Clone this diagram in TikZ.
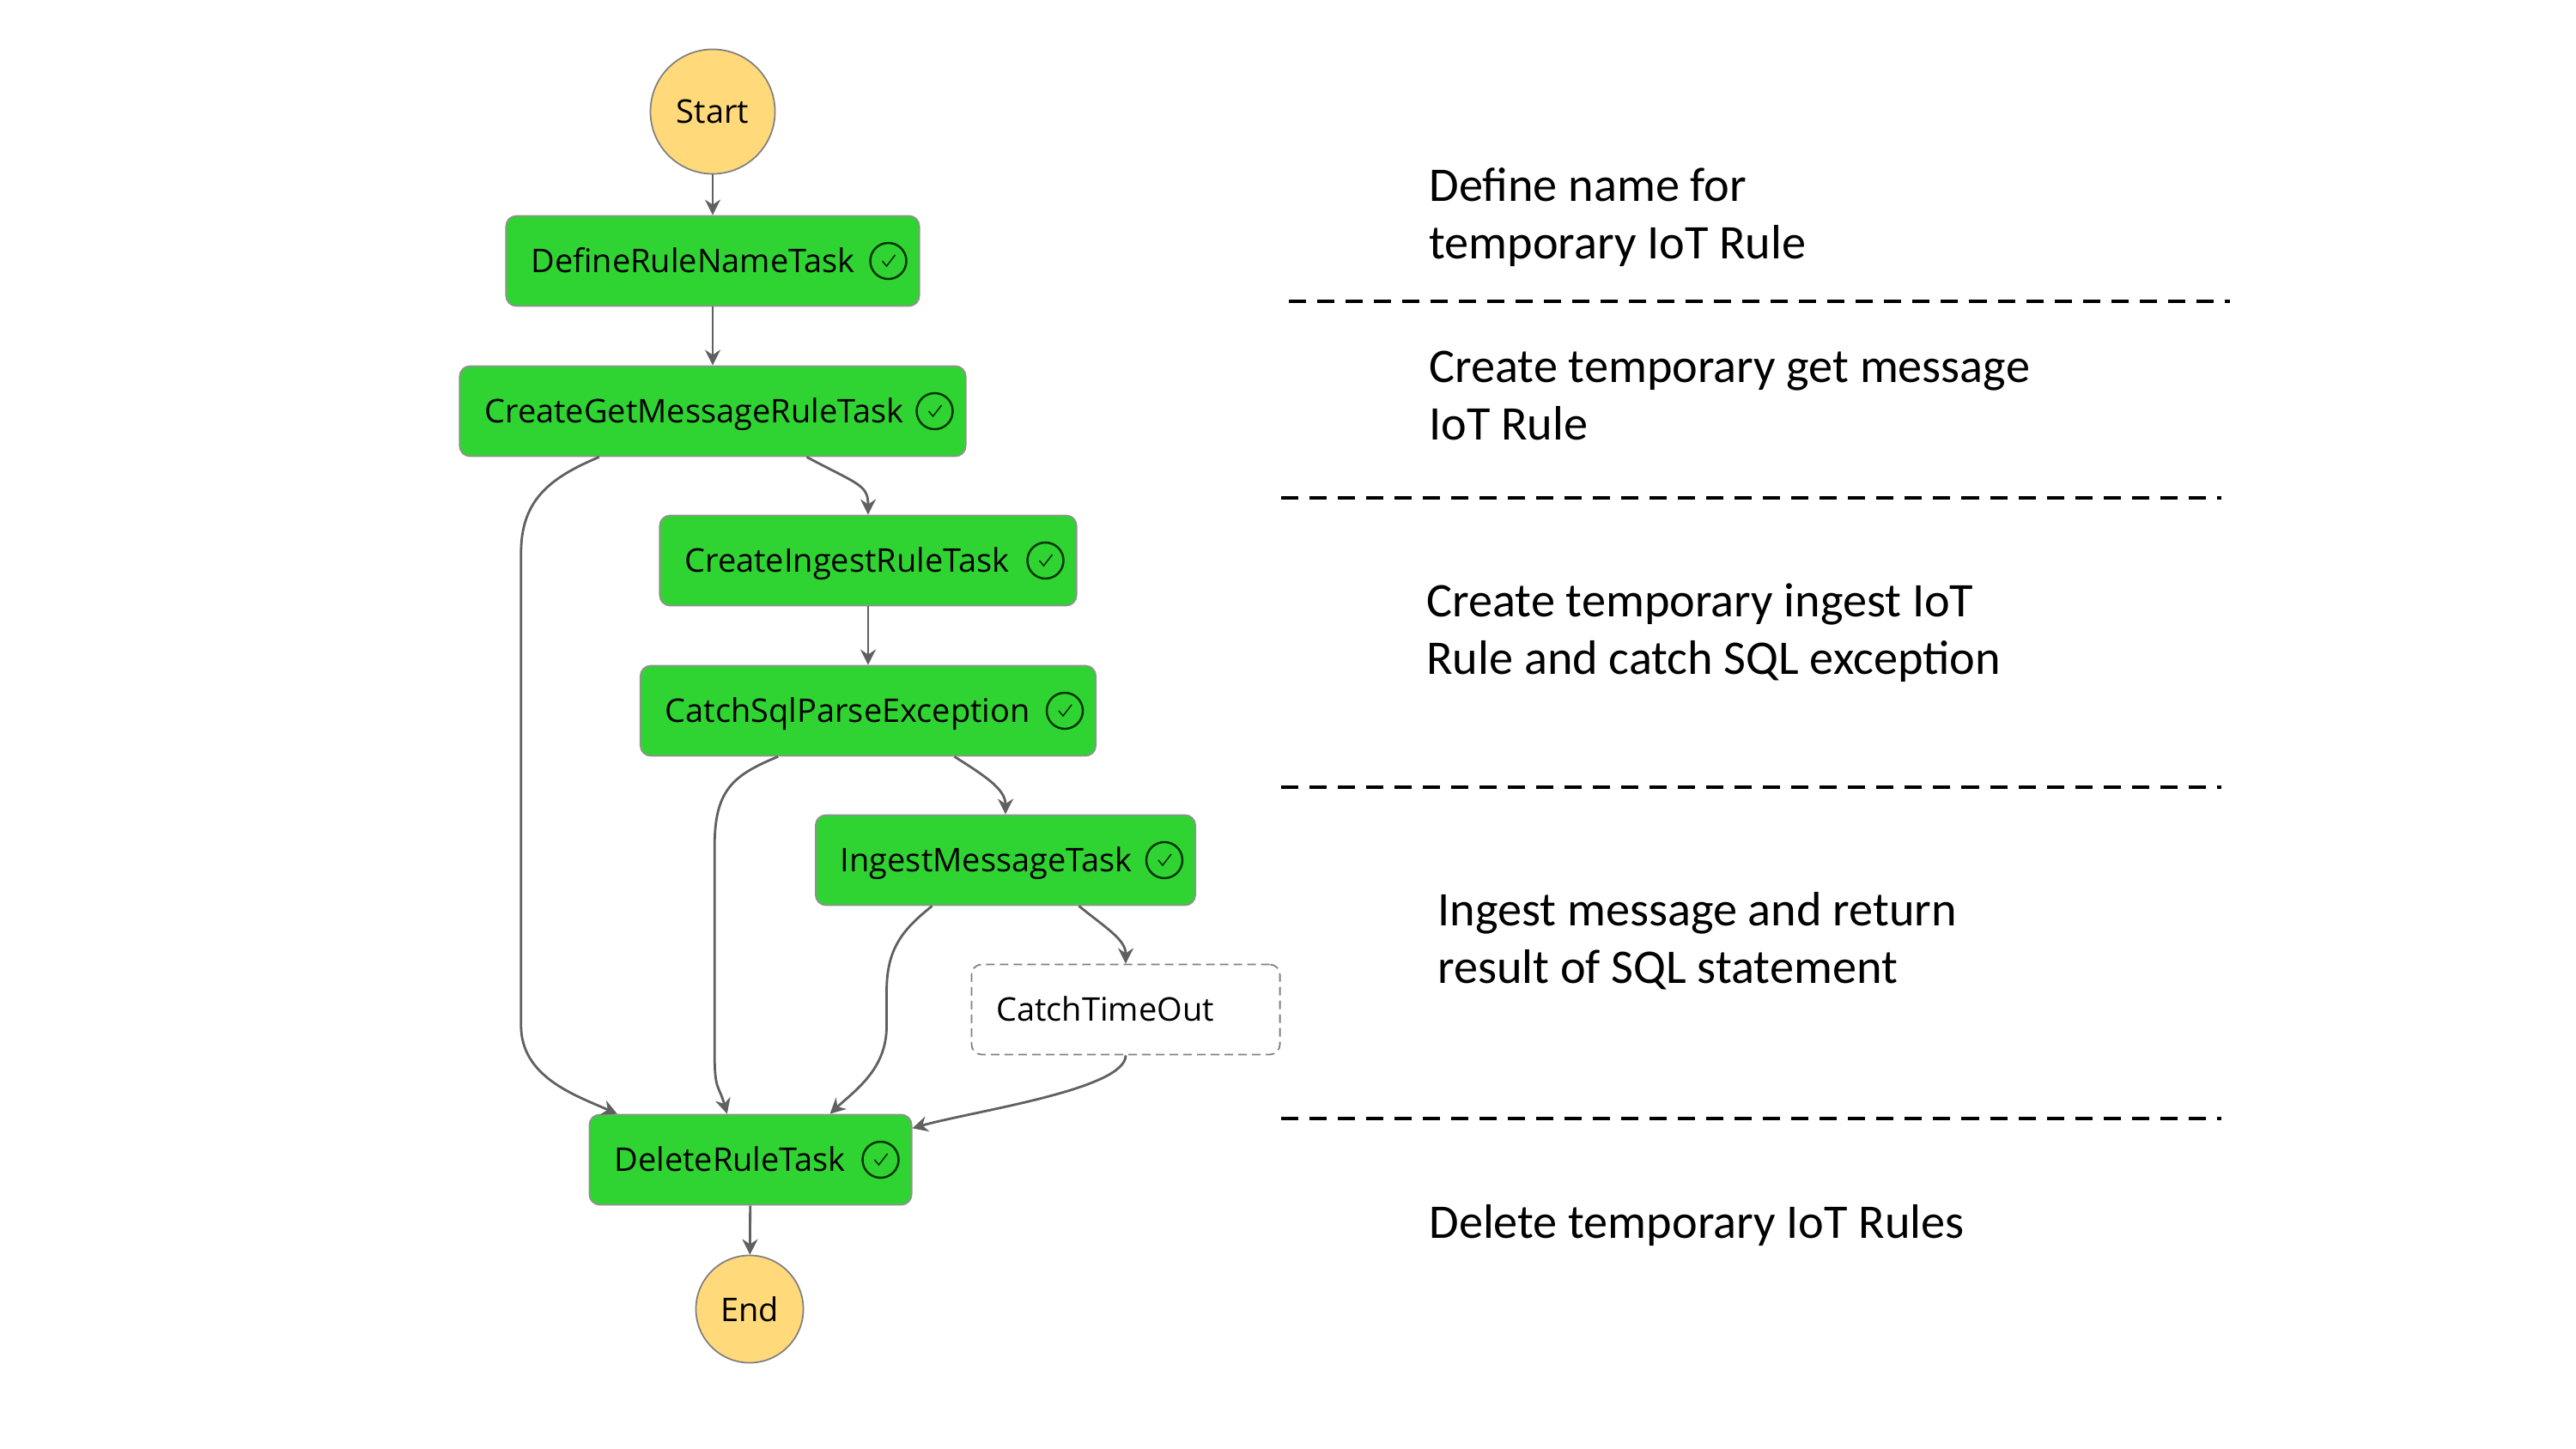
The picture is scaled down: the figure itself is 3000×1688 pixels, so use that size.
\documentclass[tikz,border=0pt]{standalone}
\usepackage{fontspec}
\setmainfont{Open Sans}
\newfontfamily\notefont{Carlito}
\usepackage{xcolor}
\usetikzlibrary{arrows.meta,positioning,shapes.geometric}
\definecolor{taskgreen}{HTML}{2FD432}
\definecolor{startyellow}{HTML}{FFD97A}
\definecolor{edgegray}{HTML}{606060}

\begin{document}
\begin{tikzpicture}[
    x=0.01cm, y=-0.01cm,
    task/.style={draw=edgegray!70, fill=taskgreen, rounded corners=0.12cm, minimum height=1.05cm, inner xsep=0.29cm, inner ysep=0pt, text height=0.34cm, text depth=0.07cm, align=left, font=\fontsize{10.8}{12}\selectfont, line width=0.5pt},
    state/.style={circle, draw=edgegray!80, fill=startyellow, inner sep=0pt, font=\fontsize{10.8}{12}\selectfont, line width=0.5pt},
    okmark/.style={circle, draw=black!80!green, minimum size=0.42cm, inner sep=0pt, line width=0.7pt, path picture={\draw[line width=0.45pt] ([shift={(-0.07cm,0cm)}]path picture bounding box.center) -- ++(0.05cm,-0.06cm) -- ++(0.1cm,0.13cm);}},
    arrow/.style={-{Stealth[length=0.18cm,width=0.18cm]}, edgegray, line width=0.8pt},
    note/.style={anchor=west, align=left, font=\notefont\fontsize{16}{19}\selectfont},
    divider/.style={dashed, dash pattern=on 0.2cm off 0.13cm, line width=1.2pt}
]
    \useasboundingbox (0,0) rectangle (3000,1688);

    % The state machine
    \node[state, minimum size=1.45cm] (start) at (830,130) {Start};
    \node[task, text width=4.23cm] (define) at (830,304) {DefineRuleNameTask};
    \node[task, text width=5.31cm] (create) at (830,479) {CreateGetMessageRuleTask};
    \node[task, text width=4.27cm] (ingestrule) at (1011,653) {CreateIngestRuleTask};
    \node[task, text width=4.72cm] (catchsql) at (1011,828) {CatchSqlParseException};
    \node[task, text width=3.84cm] (ingest) at (1171,1002) {IngestMessageTask};
    \node[task, text width=3.01cm, draw=gray, fill=white, dashed, dash pattern=on 0.1cm off 0.06cm] (timeout) at (1311,1176) {CatchTimeOut};
    \node[task, text width=3.17cm] (delete) at (874,1351) {DeleteRuleTask};
    \node[state, minimum size=1.25cm] (end) at (873,1525) {End};

    % Check marks
    \foreach \t in {define,create,ingestrule,catchsql,ingest,delete}
        \node[okmark] (\t-ok) at ([xshift=-0.37cm]\t.east) {};

    % Arrows
    \draw[arrow] (start) -- (define);
    \draw[arrow] (define) -- (create);
    \draw[arrow] (create.334) .. controls +(60,32) and +(0,-35) .. (ingestrule.north);
    \draw[arrow] (ingestrule) -- (catchsql);
    \draw[arrow] (catchsql.332) .. controls +(40,25) and +(0,-28) .. (ingest.north);
    \draw[arrow] (ingest.328) .. controls +(32,26) and +(0,-28) .. (timeout.north);

    \draw[arrow] (create.202) .. controls +(-60,25) and +(0,-60) .. ++(-91,112) -- ++(0,550) .. controls +(0,60) and +(-50,-22) .. (delete.161);
    \draw[arrow] (catchsql.207) .. controls +(-54,22) and +(0,-65) .. ++(-74,105) -- ++(0,240) .. controls +(0,45) and +(-10,-35) .. (delete.117);
    \draw[arrow] (ingest.212) .. controls +(-35,28) and +(0,-50) .. ++(-53,100) -- ++(0,40) .. controls +(0,50) and +(30,-28) .. (delete.30);
    \draw[arrow] (timeout.south) .. controls +(0,40) and +(70,-20) .. (delete.11);
    \draw[arrow] (delete) -- (end);

    % Text on the right
    \node[note] (defnote) at (1652,253) {Define name for\\temporary IoT Rule};
    \node[note] (getnote) at (1652,461) {Create temporary get message\\IoT Rule};
    \node[note] (rulenote) at (1649,737) {Create temporary ingest IoT\\Rule and catch SQL exception};
    \node[note] (msgnote) at (1662,1096) {Ingest message and return\\result of SQL statement};
    \node[note] (delnote) at (1652,1427) {Delete temporary IoT Rules};

    % Dashed separators
    \draw[divider] (1501,351) -- (2597,351);
    \draw[divider] (1492,580) -- (2587,580);
    \draw[divider] (1492,917) -- (2587,917);
    \draw[divider] (1492,1303) -- (2587,1303);
\end{tikzpicture}
\end{document}
